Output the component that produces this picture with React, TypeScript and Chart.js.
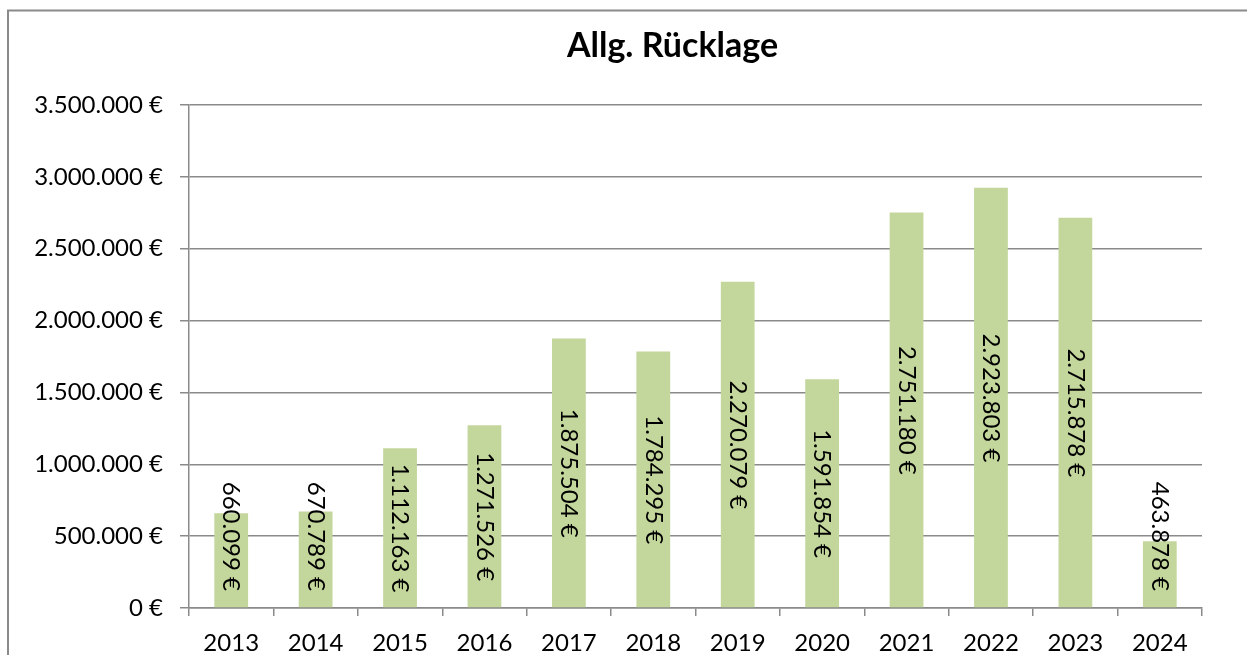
import React, { useEffect, useRef } from 'react';
import { Chart, registerables } from 'chart.js';

Chart.register(...registerables);

const categories = ['2013', '2014', '2015', '2016', '2017', '2018', '2019', '2020', '2021', '2022', '2023', '2024'];
const values = [660099, 670789, 1112163, 1271526, 1875504, 1784295, 2270079, 1591854, 2751180, 2923803, 2715878, 463878];
const yMin = 0;
const yMax = 3500000;
const yStep = 500000;
const titleText = 'Allg. Rücklage';

const FONT = 'Lato, "Open Sans", sans-serif';
const GRAY = '#8a8a8a';
const BAR = '#c3d69b';
const FS = 24;

function fmt(n: number): string {
  return String(Math.round(n)).replace(/\B(?=(\d{3})+(?!\d))/g, '.') + ' €';
}

const framePlugin = {
  id: 'frame',
  beforeDraw(chart: any) {
    const ctx = chart.ctx;
    ctx.save();
    ctx.fillStyle = '#ffffff';
    ctx.fillRect(0, 0, chart.width, chart.height);
    ctx.strokeStyle = GRAY;
    ctx.lineWidth = 2;
    ctx.beginPath();
    ctx.moveTo(8, chart.height + 2);
    ctx.lineTo(8, 10.5);
    ctx.lineTo(chart.width + 2, 10.5);
    ctx.stroke();
    ctx.restore();
  },
  afterDraw(chart: any) {
    const ctx = chart.ctx;
    ctx.save();
    ctx.fillStyle = '#000000';
    ctx.font = 'bold 34px ' + FONT;
    ctx.textAlign = 'center';
    ctx.textBaseline = 'alphabetic';
    ctx.fillText(titleText, 672.5, 57);
    ctx.restore();
  },
};

const labelPlugin = {
  id: 'barLabels',
  afterDatasetsDraw(chart: any) {
    const ctx = chart.ctx;
    const meta = chart.getDatasetMeta(0);
    const yZero = chart.scales.y.getPixelForValue(0);
    ctx.save();
    ctx.fillStyle = '#000000';
    ctx.font = FS + 'px ' + FONT;
    ctx.textAlign = 'center';
    ctx.textBaseline = 'middle';
    meta.data.forEach((bar: any, i: number) => {
      const text = fmt(values[i]);
      const w = ctx.measureText(text).width;
      const top = bar.y;
      const h = yZero - top;
      let cy: number;
      if (w + 8 > h) {
        cy = yZero - 17 - w / 2;
      } else {
        cy = top + h / 2;
      }
      ctx.save();
      ctx.translate(bar.x, cy);
      ctx.rotate(Math.PI / 2);
      ctx.fillText(text, 0, 0);
      ctx.restore();
    });
    ctx.restore();
  },
};

export default function App() {
  const ref = useRef<HTMLCanvasElement>(null);
  useEffect(() => {
    if (!ref.current) return;
    Chart.defaults.font.family = FONT;
    const chart = new Chart(ref.current, {
      type: 'bar',
      data: {
        labels: categories,
        datasets: [
          {
            data: values,
            backgroundColor: BAR,
            borderWidth: 0,
            barPercentage: 0.4,
            categoryPercentage: 1.0,
          },
        ],
      },
      options: {
        responsive: false,
        animation: false,
        layout: { padding: { top: 105, right: 45, left: 0, bottom: 0 } },
        plugins: {
          legend: { display: false },
          title: { display: false },
          tooltip: { enabled: false },
        },
        scales: {
          x: {
            afterFit(scale: any) {
              scale.height = 47;
            },
            grid: {
              display: true,
              drawOnChartArea: false,
              drawTicks: true,
              tickLength: 8,
              color: GRAY,
              lineWidth: 1.5,
              offset: true,
            },
            border: { display: true, color: GRAY, width: 1.5 },
            ticks: {
              color: '#000000',
              font: { size: FS, family: FONT },
              padding: 13,
              maxRotation: 0,
            },
          },
          y: {
            min: yMin,
            max: yMax,
            afterFit(scale: any) {
              scale.width = 189;
            },
            grid: {
              color: GRAY,
              lineWidth: 1.5,
              drawTicks: true,
              tickLength: 9,
            },
            border: { display: true, color: GRAY, width: 1.5 },
            ticks: {
              stepSize: yStep,
              color: '#000000',
              font: { size: FS, family: FONT },
              padding: 17,
              callback: (v: any) => fmt(Number(v)),
            },
          },
        },
      },
      plugins: [framePlugin, labelPlugin],
    });
    return () => chart.destroy();
  }, []);
  return (
    <div style={{ position: 'absolute', left: 0, top: 0, width: 1247, height: 655 }}>
      <canvas ref={ref} width={1247} height={655} />
    </div>
  );
}
